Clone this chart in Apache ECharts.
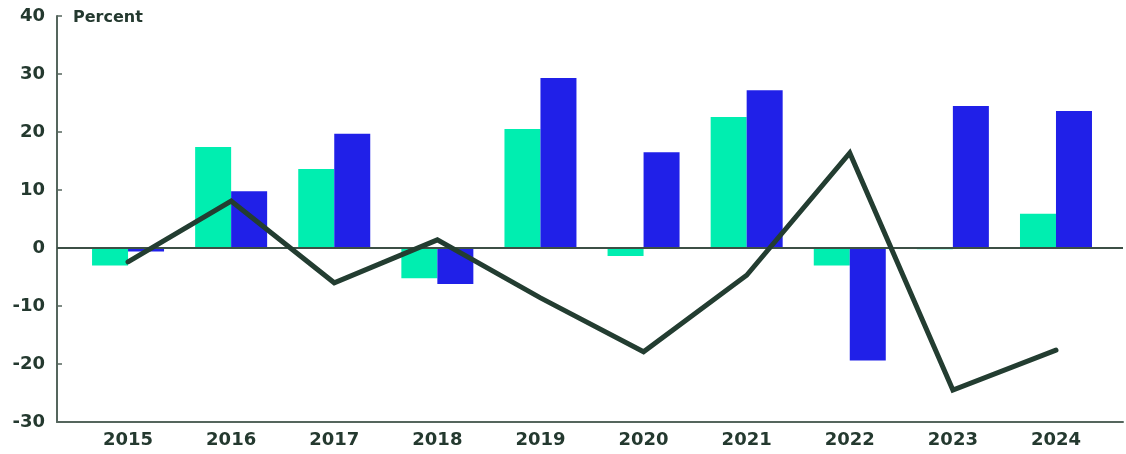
<!DOCTYPE html>
<html>
<head>
<meta charset="utf-8">
<script src="https://cdn.jsdelivr.net/npm/echarts@6/dist/echarts.min.js"></script>
<style>
  html, body { margin: 0; padding: 0; background: #ffffff; }
  #chart { width: 1126px; height: 454px; }
</style>
</head>
<body>
<div id="chart"></div>
<script>
// Annual percent changes, 2015–2024
const years = ['2015', '2016', '2017', '2018', '2019', '2020', '2021', '2022', '2023', '2024'];
const greenValues = [-3.0, 17.4, 13.6, -5.2, 20.5, -1.4, 22.6, -3.0, -0.2, 5.9];
const blueValues = [-0.6, 9.8, 19.7, -6.2, 29.3, 16.5, 27.2, -19.4, 24.5, 23.6];
const lineValues = [-2.4, 8.1, -6.0, 1.4, -8.6, -17.9, -4.7, 16.4, -24.5, -17.6];
const yTicks = [-30, -20, -10, 0, 10, 20, 30, 40];

const textColor = '#24392f';
const axisColor = '#55665d';
const fontFamily = '"DejaVu Sans", "Liberation Sans", sans-serif';

// Each year sits at an integer position on a numeric x axis
const positions = years.map((_, i) => i);
const pair = (vals) => vals.map((v, i) => [positions[i], v]);

const chart = echarts.init(document.getElementById('chart'), null, { renderer: 'canvas' });

chart.setOption({
  animation: false,
  backgroundColor: '#ffffff',
  title: {
    text: 'Percent',
    left: 68,
    top: 5,
    textStyle: { fontFamily, fontWeight: 'bold', fontSize: 16, color: textColor }
  },
  grid: { left: 57, right: 3, top: 16, bottom: 32, containLabel: false },
  xAxis: {
    type: 'value',
    min: -0.689,
    max: 9.65,
    splitLine: { show: false },
    axisLine: { show: true, onZero: false, lineStyle: { color: axisColor, width: 2 } },
    axisTick: { show: false },
    axisLabel: {
      customValues: positions,
      formatter: (v) => years[Math.round(v)],
      margin: 9,
      fontFamily, fontWeight: 'bold', fontSize: 18, color: textColor
    }
  },
  yAxis: {
    type: 'value',
    min: yTicks[0],
    max: yTicks[yTicks.length - 1],
    interval: 10,
    splitLine: { show: false },
    axisLine: { show: true, onZero: false, lineStyle: { color: axisColor, width: 2 } },
    axisTick: { show: true, inside: true, length: 5, lineStyle: { color: axisColor, width: 1.5 } },
    axisLabel: {
      margin: 12,
      formatter: (v) => (v < 0 ? '-' + Math.abs(v) : String(v)),
      fontFamily, fontWeight: 'bold', fontSize: 18, color: textColor
    }
  },
  series: [
    {
      name: 'green',
      type: 'bar',
      data: pair(greenValues),
      barWidth: 36,
      barGap: '0%',
      itemStyle: { color: '#00eeb0' },
      markLine: {
        silent: true,
        symbol: ['none', 'none'],
        label: { show: false },
        lineStyle: { color: '#3c4f45', width: 2, type: 'solid' },
        data: [{ yAxis: 0 }]
      }
    },
    {
      name: 'blue',
      type: 'bar',
      data: pair(blueValues),
      barWidth: 36,
      barGap: '0%',
      itemStyle: { color: '#2020e8' }
    },
    {
      name: 'line',
      type: 'line',
      data: pair(lineValues),
      symbol: 'none',
      z: 5,
      lineStyle: { color: '#233d31', width: 5, cap: 'round', join: 'miter' }
    }
  ]
});
</script>
</body>
</html>
